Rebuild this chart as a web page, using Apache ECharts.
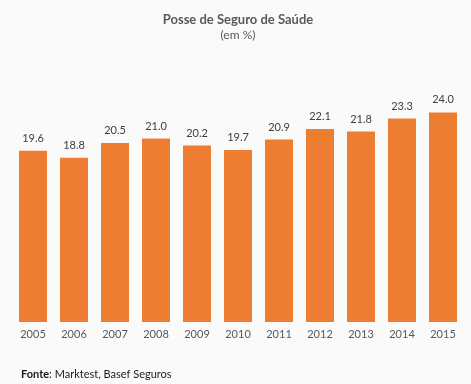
<!DOCTYPE html>
<html><head><meta charset="utf-8">
<script src="https://cdn.jsdelivr.net/npm/echarts@6/dist/echarts.min.js"></script>
<style>html,body{margin:0;padding:0;background:#fafafa}#c{width:471px;height:384px}</style>
</head><body><div id="c"></div>
<script>
var years = ['2005','2006','2007','2008','2009','2010','2011','2012','2013','2014','2015'];
var values = [19.6, 18.8, 20.5, 21.0, 20.2, 19.7, 20.9, 22.1, 21.8, 23.3, 24.0];
var titleText = 'Posse de Seguro de Saúde';
var subtitleText = '(em %)';
var chart = echarts.init(document.getElementById('c'));
chart.setOption({
  backgroundColor: '#fafafa',
  animation: false,
  textStyle: {fontFamily: 'Lato'},
  title: [{
    text: titleText, left: 238, top: 13, textAlign: 'center', padding: 0,
    textStyle: {fontSize: 13, fontWeight: 'bold', color: '#595959', fontFamily: 'Lato'}
  },{
    text: subtitleText, left: 238, top: 29, textAlign: 'center', padding: 0,
    textStyle: {fontSize: 12, fontWeight: 'normal', color: '#595959', fontFamily: 'Lato'}
  },{
    text: '{b|Fonte}: Marktest, Basef Seguros', left: 21, top: 369, padding: 0,
    textStyle: {fontSize: 11, fontWeight: 'normal', color: '#1a1a1a', fontFamily: 'Lato',
      rich: {b: {fontWeight: 'bold', fontSize: 11, color: '#1a1a1a', fontFamily: 'Lato'}}}
  }],
  grid: {left: 12.5, right: 7.5, top: 60, bottom: 62, containLabel: false},
  xAxis: {
    type: 'category', data: years,
    axisLine: {show: false}, axisTick: {show: false},
    axisLabel: {color: '#595959', fontSize: 11, margin: 7, fontFamily: 'Lato'}
  },
  yAxis: {type: 'value', min: 0, max: 30, show: false, splitLine: {show: false}},
  series: [{
    type: 'bar', data: values, barWidth: 28,
    itemStyle: {color: '#ED7D31'},
    label: {show: true, position: 'top', distance: 7, color: '#404040', fontSize: 11, fontFamily: 'Lato',
      formatter: function(p){return p.value.toFixed(1);}}
  }]
});
</script></body></html>
